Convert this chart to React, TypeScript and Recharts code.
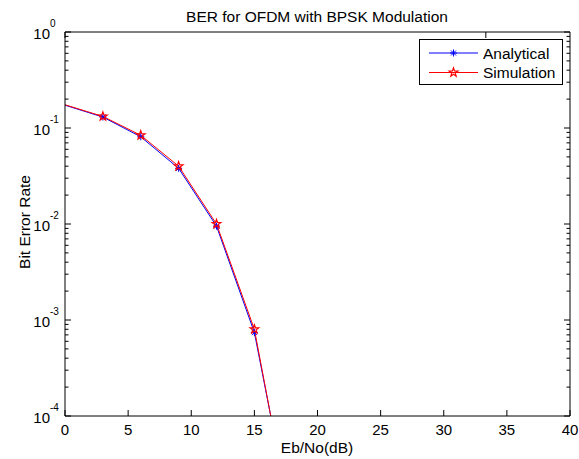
import React from "react";
import { LineChart, Line, XAxis, YAxis, Legend } from "recharts";

// Eb/No points (dB) and BER
const ebNoDb = [-3, 3, 6, 9, 12, 15, 18];
const berAnalytical = [0.23, 0.13, 0.081, 0.038, 0.0095, 0.00074, 0.0000072];
const berSimulation = [0.231, 0.132, 0.084, 0.04, 0.01, 0.0008, 0.0000066];

const xTicks = [0, 5, 10, 15, 20, 25, 30, 35, 40];
const decades = [-4, -3, -2, -1, 0];

const yTicks: number[] = [];
decades.forEach((d) => {
  yTicks.push(Math.pow(10, d));
  if (d < 0) for (let m = 2; m <= 9; m++) yTicks.push(m * Math.pow(10, d));
});

const data = ebNoDb.map((x, i) => ({
  x,
  analytical: berAnalytical[i],
  simulation: berSimulation[i],
}));

const W = 579;
const H = 459;
const FONT = '"Liberation Sans", Arial, sans-serif';

const isMajor = (v: number) =>
  Math.abs(Math.log10(v) - Math.round(Math.log10(v))) < 1e-9;

const LeftTick = (props: any) => {
  const { x, y, payload } = props;
  const v = payload.value;
  const major = isMajor(v);
  const e = Math.round(Math.log10(v));
  return (
    <g>
      <line x1={x} x2={x + (major ? 6 : 3.5)} y1={y} y2={y} stroke="#000" />
      {major && (
        <>
          <text x={x - 15} y={y + 6.5} textAnchor="end" fontSize={15} fill="#000" fontFamily={FONT}>
            10
          </text>
          <text x={x - 15} y={y - 5.5} fontSize={10} fill="#000" fontFamily={FONT}>
            {e}
          </text>
        </>
      )}
    </g>
  );
};

const RightTick = (props: any) => {
  const { x, y, payload } = props;
  const major = isMajor(payload.value);
  return <line x1={x} x2={x - (major ? 6 : 3.5)} y1={y} y2={y} stroke="#000" />;
};

const BottomTick = (props: any) => {
  const { x, y, payload } = props;
  return (
    <g>
      <line x1={x} x2={x} y1={y} y2={y - 6} stroke="#000" />
      <text x={x} y={y + 19} textAnchor="middle" fontSize={15} fill="#000" fontFamily={FONT}>
        {payload.value}
      </text>
    </g>
  );
};

const TopTick = (props: any) => {
  const { x, y } = props;
  return <line x1={x} x2={x} y1={y} y2={y + 6} stroke="#000" />;
};

const Asterisk = ({ cx, cy, color = "#0000ff", r = 3.5 }: any) => {
  const d = r * 0.7071;
  return (
    <g stroke={color} strokeWidth={1}>
      <line x1={cx - r} x2={cx + r} y1={cy} y2={cy} />
      <line x1={cx} x2={cx} y1={cy - r} y2={cy + r} />
      <line x1={cx - d} x2={cx + d} y1={cy - d} y2={cy + d} />
      <line x1={cx - d} x2={cx + d} y1={cy + d} y2={cy - d} />
    </g>
  );
};

const Pentagram = ({ cx, cy, color = "#ff0000", r = 4.6 }: any) => {
  const pts: string[] = [];
  for (let i = 0; i < 10; i++) {
    const rr = i % 2 === 0 ? r : r * 0.4;
    const a = -Math.PI / 2 + (i * Math.PI) / 5;
    pts.push(`${cx + rr * Math.cos(a)},${cy + rr * Math.sin(a)}`);
  }
  return <polygon points={pts.join(" ")} fill="none" stroke={color} strokeWidth={1.2} />;
};

const renderAsterisk = (p: any) => {
  const key = p.key ?? `a-${p.index}`;
  if (p.cx == null || p.cy == null) return <g key={key} />;
  return (
    <g key={key}>
      <Asterisk cx={p.cx} cy={p.cy} />
    </g>
  );
};

const renderStar = (p: any) => {
  const key = p.key ?? `s-${p.index}`;
  if (p.cx == null || p.cy == null) return <g key={key} />;
  return (
    <g key={key}>
      <Pentagram cx={p.cx} cy={p.cy} />
    </g>
  );
};

const LegendBox = () => (
  <div
    style={{
      width: 144,
      height: 46,
      border: "1px solid #000",
      boxSizing: "border-box",
      background: "#fff",
      position: "relative",
    }}
  >
    <svg width={142} height={44} style={{ position: "absolute", left: 0, top: 0 }}>
      <line x1={9} x2={58} y1={13} y2={13} stroke="#0000ff" />
      <Asterisk cx={33.5} cy={13} />
      <text x={63} y={18.5} fontSize={15.5} fill="#000" fontFamily={FONT}>
        Analytical
      </text>
      <line x1={9} x2={58} y1={32.5} y2={32.5} stroke="#ff0000" />
      <Pentagram cx={33.5} cy={32.5} />
      <text x={63} y={38} fontSize={15.5} fill="#000" fontFamily={FONT}>
        Simulation
      </text>
    </svg>
  </div>
);

export default function App() {
  return (
    <div
      style={{
        position: "fixed",
        left: 0,
        top: 0,
        width: W,
        height: H,
        background: "#fff",
        fontFamily: FONT,
      }}
    >
      <LineChart
        width={W}
        height={H}
        data={data}
        margin={{ top: 31, right: 8, bottom: 42, left: 64 }}
      >
        <XAxis
          dataKey="x"
          type="number"
          domain={[0, 40]}
          ticks={xTicks}
          allowDataOverflow
          height={1}
          tickSize={0}
          tickMargin={0}
          tick={<BottomTick />}
          tickLine={false}
          axisLine={{ stroke: "#000" }}
          interval={0}
        />
        <XAxis
          xAxisId="top"
          orientation="top"
          type="number"
          domain={[0, 40]}
          ticks={xTicks}
          height={1}
          tickSize={0}
          tickMargin={0}
          tick={<TopTick />}
          tickLine={false}
          axisLine={{ stroke: "#000" }}
          interval={0}
        />
        <YAxis
          scale="log"
          type="number"
          domain={[1e-4, 1]}
          ticks={yTicks}
          allowDataOverflow
          width={1}
          tickSize={0}
          tickMargin={0}
          tick={<LeftTick />}
          tickLine={false}
          axisLine={{ stroke: "#000" }}
          interval={0}
        />
        <YAxis
          yAxisId="right"
          orientation="right"
          scale="log"
          type="number"
          domain={[1e-4, 1]}
          ticks={yTicks}
          allowDataOverflow
          width={1}
          tickSize={0}
          tickMargin={0}
          tick={<RightTick />}
          tickLine={false}
          axisLine={{ stroke: "#000" }}
          interval={0}
        />
        <Legend
          layout="horizontal"
          verticalAlign="middle"
          align="center"
          content={() => <LegendBox />}
          wrapperStyle={{ position: "absolute", left: 419, top: 39, width: 144, height: 46 }}
        />
        <Line
          type="linear"
          dataKey="analytical"
          name="Analytical"
          stroke="#0000ff"
          strokeWidth={1}
          dot={renderAsterisk}
          activeDot={false}
          isAnimationActive={false}
        />
        <Line
          type="linear"
          dataKey="simulation"
          name="Simulation"
          stroke="#ff0000"
          strokeWidth={1}
          dot={renderStar}
          activeDot={false}
          isAnimationActive={false}
        />
      </LineChart>
      <svg
        width={W}
        height={H}
        style={{ position: "absolute", left: 0, top: 0, pointerEvents: "none" }}
      >
        <text x={317} y={21.5} textAnchor="middle" fontSize={15.5} fill="#000" fontFamily={FONT}>
          BER for OFDM with BPSK Modulation
        </text>
        <text x={317} y={453} textAnchor="middle" fontSize={15.5} fill="#000" fontFamily={FONT}>
          Eb/No(dB)
        </text>
        <text
          x={0}
          y={0}
          transform="translate(29.5,222) rotate(-90)"
          textAnchor="middle"
          fontSize={15.5}
          fill="#000"
          fontFamily={FONT}
        >
          Bit Error Rate
        </text>
      </svg>
    </div>
  );
}
